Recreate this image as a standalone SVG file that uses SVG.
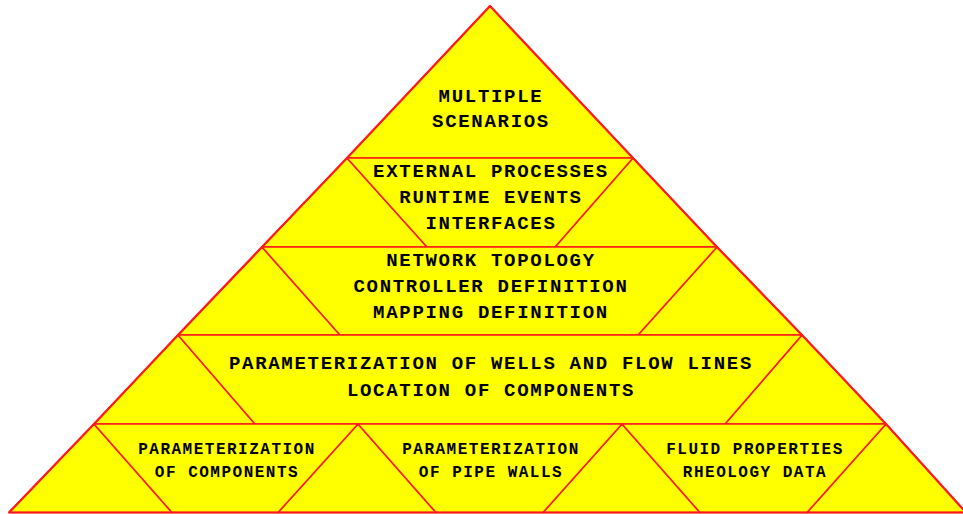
<svg xmlns="http://www.w3.org/2000/svg" width="963" height="514" viewBox="0 0 963 514">
  <style>
    .cell { fill: #ffff00; stroke: #ff1a1a; stroke-width: 1.6; stroke-linejoin: round; }
    .outer { fill: none; stroke: #ff1a1a; stroke-width: 2.2; stroke-linejoin: round; }
    .t { font-family: "Liberation Mono", "DejaVu Sans Mono", monospace; font-weight: bold; font-size: 19px; letter-spacing: 1.7px; fill: #000; text-anchor: middle; }
    .s { font-family: "Liberation Mono", "DejaVu Sans Mono", monospace; font-weight: bold; font-size: 16px; letter-spacing: 1.5px; fill: #000; text-anchor: middle; }
  </style>
  <rect width="963" height="514" fill="#ffffff"/>

  <g id="fillers">
    <polygon class="cell" points="262,247 347,158 427,247"/>
    <polygon class="cell" points="555,247 633,158 717,247"/>
    <polygon class="cell" points="178,335 262,247 340,335"/>
    <polygon class="cell" points="638,335 717,247 802,335"/>
    <polygon class="cell" points="94,424 178,335 255,424"/>
    <polygon class="cell" points="725,424 802,335 886,424"/>
    <polygon class="cell" points="9,512.5 94,424 172,512.5"/>
    <polygon class="cell" points="278,512.5 358,424 436,512.5"/>
    <polygon class="cell" points="543,512.5 622,424 700,512.5"/>
    <polygon class="cell" points="807,512.5 886,424 966,512.5"/>
  </g>

  <g id="scenarios">
    <polygon class="cell" points="490,6 347,158 633,158"/>
    <text class="t" x="491" y="101.5">MULTIPLE</text>
    <text class="t" x="491" y="126.5">SCENARIOS</text>
  </g>

  <g id="external">
    <polygon class="cell" points="347,158 633,158 555,247 427,247"/>
    <text class="t" x="491" y="176.5">EXTERNAL PROCESSES</text>
    <text class="t" x="491" y="203">RUNTIME EVENTS</text>
    <text class="t" x="491" y="228.5">INTERFACES</text>
  </g>

  <g id="topology">
    <polygon class="cell" points="262,247 717,247 638,335 340,335"/>
    <text class="t" x="491" y="265.5">NETWORK TOPOLOGY</text>
    <text class="t" x="491" y="291.5">CONTROLLER DEFINITION</text>
    <text class="t" x="491" y="317.5">MAPPING DEFINITION</text>
  </g>

  <g id="wells">
    <polygon class="cell" points="178,335 802,335 725,424 255,424"/>
    <text class="t" x="491" y="369">PARAMETERIZATION OF WELLS AND FLOW LINES</text>
    <text class="t" x="491" y="395.5">LOCATION OF COMPONENTS</text>
  </g>

  <g id="components">
    <polygon class="cell" points="94,424 358,424 278,512.5 172,512.5"/>
    <text class="s" x="227" y="454">PARAMETERIZATION</text>
    <text class="s" x="227" y="476.5">OF COMPONENTS</text>
  </g>

  <g id="pipewalls">
    <polygon class="cell" points="358,424 622,424 543,512.5 436,512.5"/>
    <text class="s" x="491" y="454">PARAMETERIZATION</text>
    <text class="s" x="491" y="476.5">OF PIPE WALLS</text>
  </g>

  <g id="fluid">
    <polygon class="cell" points="622,424 886,424 807,512.5 700,512.5"/>
    <text class="s" x="755" y="454">FLUID PROPERTIES</text>
    <text class="s" x="755" y="476.5">RHEOLOGY DATA</text>
  </g>

  <g id="connectors">
    <polygon class="outer" points="490,6 633,158 717,247 802,335 886,424 966,512.5 9,512.5 94,424 178,335 262,247 347,158"/>
  </g>
</svg>
